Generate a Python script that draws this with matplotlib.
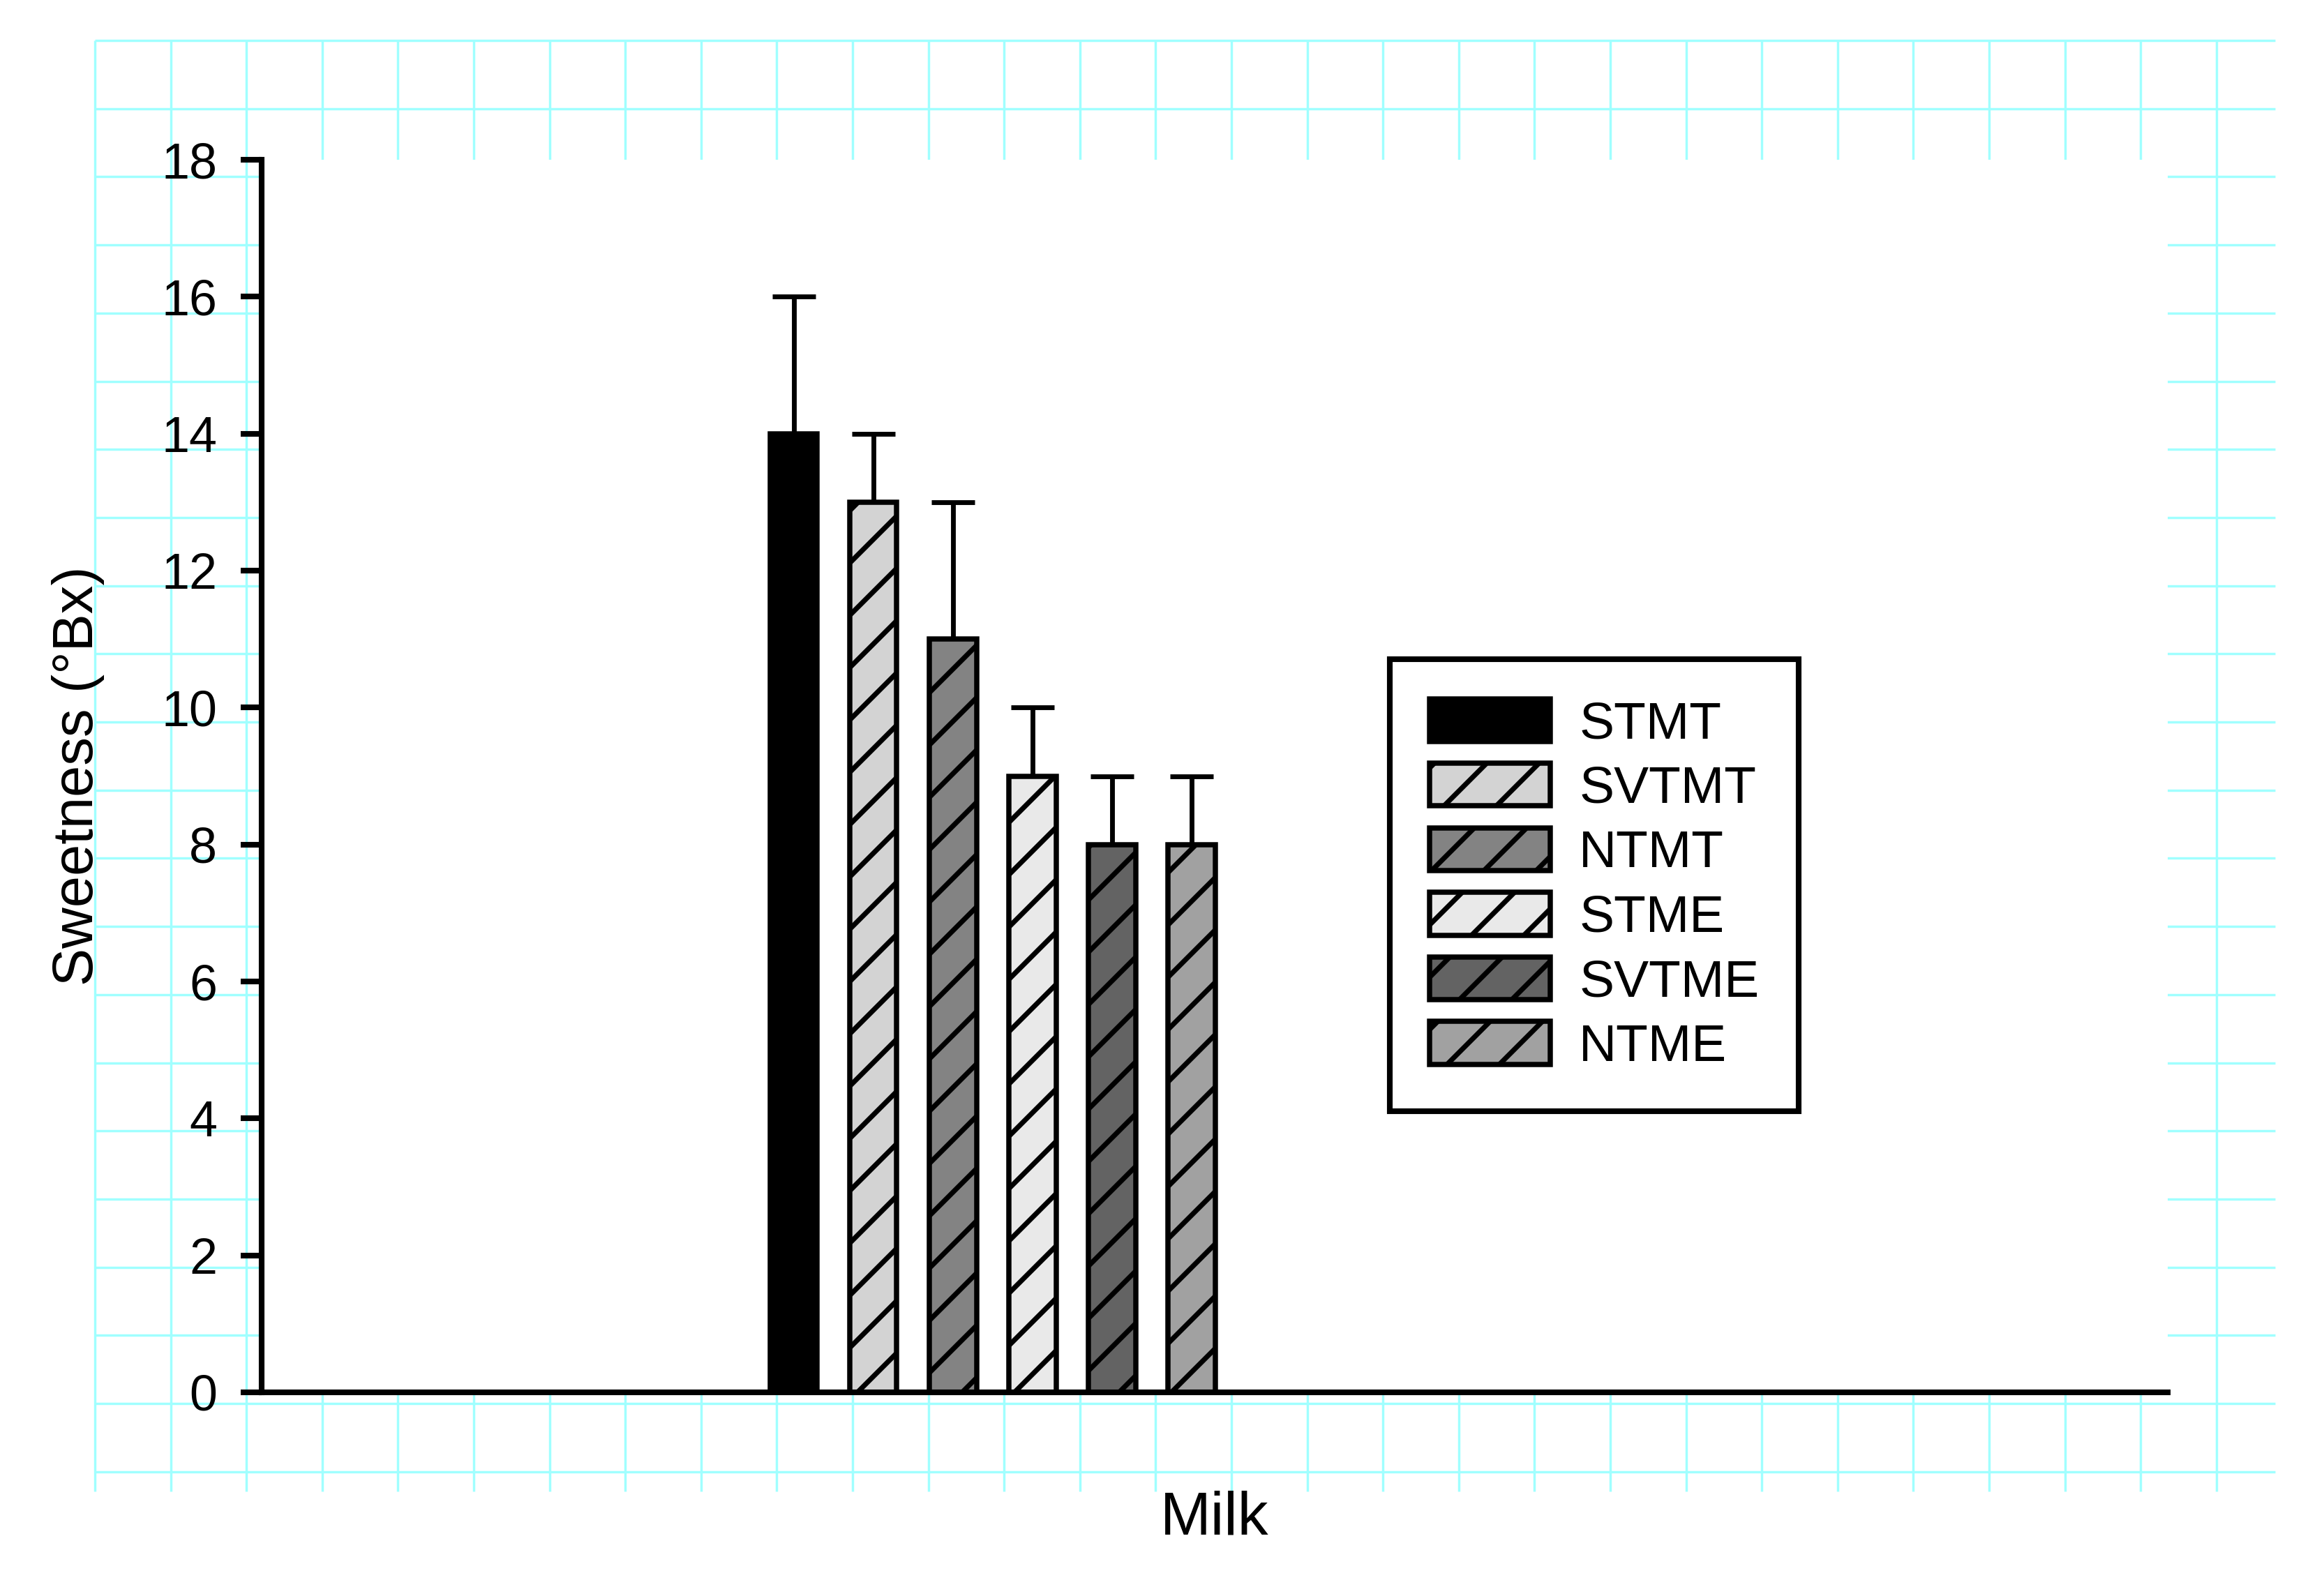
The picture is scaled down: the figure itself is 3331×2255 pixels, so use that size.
import numpy as np
import matplotlib.pyplot as plt

# data
groups = ['STMT', 'SVTMT', 'NTMT', 'STME', 'SVTME', 'NTME']
sweetness = [14, 13, 11, 9, 8, 8]
sweetness_err = [2, 1, 2, 1, 1, 1]
bar_colors = ['#000000', '#d3d3d3', '#838383', '#e9e9e9', '#636363', '#a1a1a1']
bar_hatches = ['', '//', '//', '//', '//', '//']
yticks = np.arange(0, 19, 2)

plt.rcParams['font.family'] = ['Liberation Sans', 'DejaVu Sans']
plt.rcParams['hatch.linewidth'] = 1.15

W, H, DPI = 3331, 2255, 450
fig = plt.figure(figsize=(W / DPI, H / DPI), dpi=DPI)

# page grid behind everything, in pixel units
bg = fig.add_axes([0, 0, 1, 1], zorder=-1)
bg.set_xlim(0, W)
bg.set_ylim(H, 0)
bg.axis('off')
gx0, gx1, gy0, gy1 = 136, 3261, 58, 2138
bg.vlines(gx0 + 108.6 * np.arange(29), gy0, gy1, color='#a0ffff', lw=0.55)
bg.hlines(gy0 + 97.7 * np.arange(22), gx0, gx1, color='#a0ffff', lw=0.55)

ax = fig.add_axes([375 / W, 1 - 1996 / H, (3107 - 375) / W, (1996 - 229) / H])
ax.set_facecolor('white')

x = np.arange(len(groups))
for i in range(len(groups)):
    ax.bar(x[i], sweetness[i], width=0.59, color=bar_colors[i], edgecolor='black',
           linewidth=1.2, hatch=bar_hatches[i], label=groups[i], zorder=2)
ax.errorbar(x, sweetness, yerr=[np.zeros(len(x)), sweetness_err], fmt='none',
            ecolor='black', elinewidth=1.1, capsize=4.9, capthick=1.1, zorder=1)

ax.set_xlim(-6.69, 17.27)
ax.set_ylim(0, 18)
ax.set_yticks(yticks)
ax.set_xticks([])
ax.spines['top'].set_visible(False)
ax.spines['right'].set_visible(False)
ax.spines['left'].set_bounds(0, 18)
for s in ('left', 'bottom'):
    ax.spines[s].set_linewidth(1.3)
ax.tick_params(axis='y', direction='out', length=4.8, width=1.3, pad=5.4, labelsize=11.5)

ax.set_ylabel('Sweetness (°Bx)', fontsize=13, labelpad=13)
ax.set_xlabel('Milk', fontsize=14, labelpad=22.5)

leg = ax.legend(loc='upper left', bbox_to_anchor=(0.592, 0.595), fontsize=12,
                frameon=True, fancybox=False, edgecolor='black', framealpha=1,
                handlelength=2.3, handleheight=0.88, labelspacing=0.28,
                borderpad=0.76, handletextpad=0.55, borderaxespad=0)
leg.get_frame().set_linewidth(1.3)

fig.savefig('out.png', dpi=DPI)
